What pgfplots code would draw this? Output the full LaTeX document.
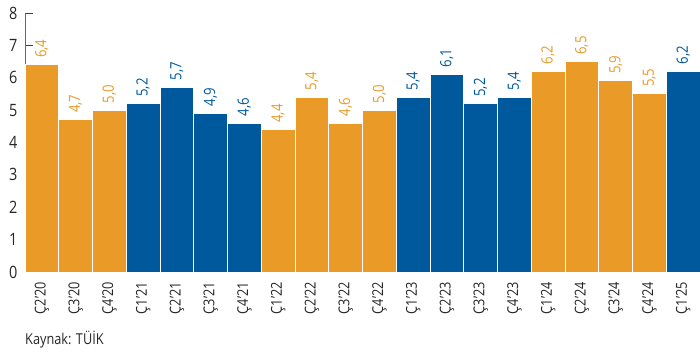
\documentclass[border=0pt]{standalone}
\usepackage{fontspec}
\setmainfont{Open Sans}[FakeStretch=0.85]
\usepackage{pgfplots}
\pgfplotsset{compat=1.18}
\definecolor{cOr}{HTML}{EA9A27}
\definecolor{cBl}{HTML}{00599D}
\definecolor{cAx}{HTML}{666666}
\begin{document}
\begin{tikzpicture}[x=1pt,y=1pt]
\useasboundingbox (0,0) rectangle (700,353);
\begin{axis}[
  at={(25pt,81pt)}, anchor=south west,
  scale only axis, width=675pt, height=259pt,
  xmin=-0.5, xmax=19.5, ymin=0, ymax=8,
  clip=false,
  axis x line=bottom, axis y line=left,
  axis line style={-, draw=cAx},
  x axis line style={line width=1.2pt},
  ytick={0,...,8},
  tick align=inside,
  major tick length=8pt,
  ytick style={draw=black!75, line width=0.8pt},
  xtick={0,...,19},
  xtick style={draw=none},
  xticklabels={Ç2’20,Ç3’20,Ç4’20,Ç1’21,Ç2’21,Ç3’21,Ç4’21,Ç1’22,Ç2’22,Ç3’22,Ç4’22,Ç1’23,Ç2’23,Ç3’23,Ç4’23,Ç1’24,Ç2’24,Ç3’24,Ç4’24,Ç1’25},
  xticklabel style={rotate=90, anchor=east, font=\fontsize{15}{15}\selectfont, text=black!85, inner sep=0pt, xshift=-2pt},
  yticklabel style={font=\fontsize{17}{17}\selectfont, text=black!85, xshift=-4pt},
  /pgf/number format/assume math mode=true,
  ybar, bar width=1, bar shift=0pt,
  every axis plot/.append style={draw=white, line width=1pt},
  nodes near coords={\pgfmathprintnumber[fixed, fixed zerofill, precision=1, use comma]{\pgfplotspointmeta}},
  nodes near coords style={rotate=90, anchor=west, inner xsep=6.5pt, inner ysep=0pt, font=\fontsize{15.5}{16}\selectfont},
]
\addplot[fill=cOr, draw=white, nodes near coords style={text=cOr}] coordinates {
  (0,6.4) (1,4.7) (2,5.0)
  (7,4.4) (8,5.4) (9,4.6) (10,5.0)
  (15,6.2) (16,6.5) (17,5.9) (18,5.5)
};
\addplot[fill=cBl, draw=white, nodes near coords style={text=cBl}] coordinates {
  (3,5.2) (4,5.7) (5,4.9) (6,4.6)
  (11,5.4) (12,6.1) (13,5.2) (14,5.4)
  (19,6.2)
};
\end{axis}
\node[anchor=west, inner sep=0pt, font=\fontsize{15}{15}\selectfont, text=black!85] at (25,13) {Kaynak: TÜİK};
\end{tikzpicture}
\end{document}
